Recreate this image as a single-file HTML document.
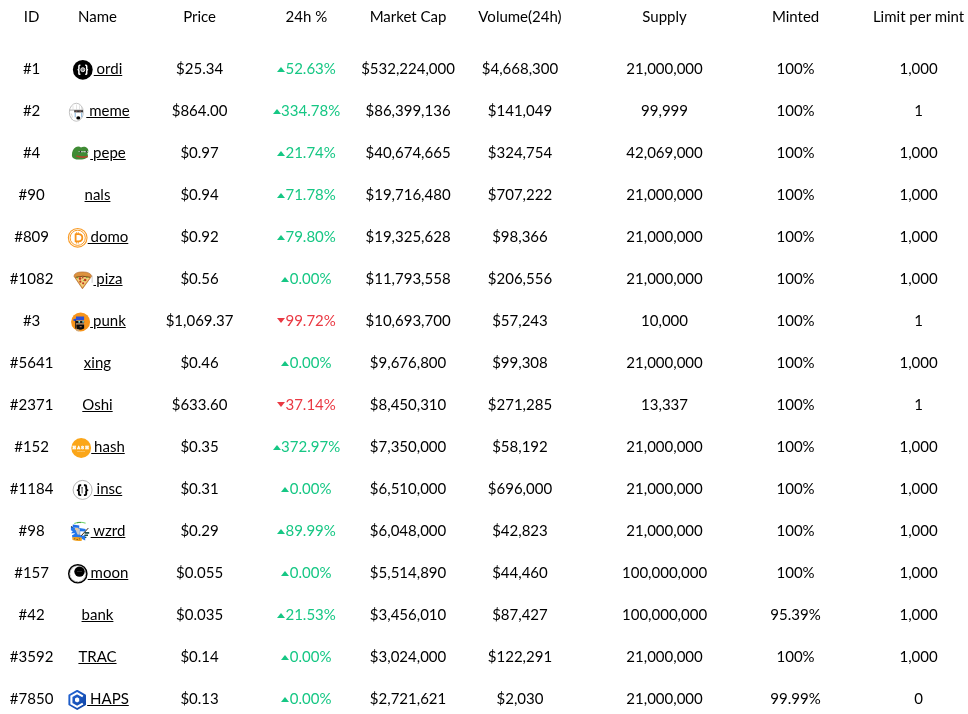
<!DOCTYPE html><html><head><meta charset="utf-8"><title>BRC-20 tokens</title><style>
*{box-sizing:border-box}
html,body{margin:0;padding:0;background:#fff;overflow:hidden}
body{width:968px;height:714px;font-family:Lato,"Liberation Sans",sans-serif;font-size:15px;color:#000}
table{will-change:transform;border-collapse:collapse;table-layout:fixed;width:1006px;position:absolute;left:0;top:0}
td,th{padding:0;text-align:center;white-space:nowrap;font-weight:400;vertical-align:middle}
thead th{height:31px;line-height:18px}
tbody td{height:42px;line-height:18px}
tbody tr:first-child td{height:58px;padding-top:16px}
a{color:#000;text-decoration:underline}
.ic{display:inline-block;width:20px;height:14px;position:relative}
.ic svg{position:absolute;left:.5px;top:0;width:20px;height:20px;overflow:visible}
.ic+a{margin-left:1px;word-spacing:-1px}
.up{color:#16c784}
.dn{color:#ea3943}
.tri{display:inline-block;width:0;height:0;border-left:4.5px solid transparent;border-right:4.5px solid transparent;margin-right:.5px}
.up .tri{border-bottom:5px solid #16c784;vertical-align:2px}
.dn .tri{border-top:5px solid #ea3943;vertical-align:3px}
</style></head><body>
<table><colgroup><col style="width:63.2px"><col style="width:68.6px"><col style="width:135.6px"><col style="width:78px"><col style="width:125.4px"><col style="width:98.4px"><col style="width:190.8px"><col style="width:71.2px"><col style="width:174.8px"></colgroup>
<thead><tr><th>ID</th><th>Name</th><th>Price</th><th>24h %</th><th>Market Cap</th><th>Volume(24h)</th><th>Supply</th><th>Minted</th><th>Limit per mint</th></tr></thead><tbody>
<tr><td>#1</td><td><span class="ic"><svg viewBox="0 0 20 20"><circle cx="9.8" cy="9.8" r="9.9" fill="#000"/>
<path d="M7.4 5.3H6.7Q5.9 5.3 5.9 6.2V8.7Q5.9 9.5 5.2 9.8Q5.9 10.1 5.9 10.9V13.4Q5.9 14.3 6.7 14.3H7.4M12.2 5.3H12.9Q13.7 5.3 13.7 6.2V8.7Q13.7 9.5 14.4 9.8Q13.7 10.1 13.7 10.9V13.4Q13.7 14.3 12.9 14.3H12.2" fill="none" stroke="#fff" stroke-width="1.5" stroke-linejoin="round"/>
<circle cx="9.8" cy="9.7" r="2" fill="#8a8a8a" stroke="#e8e8e8" stroke-width="1"/></svg></span><a href="#"> ordi</a></td><td>$25.34</td><td class="up"><span class="tri"></span>52.63%</td><td>$532,224,000</td><td>$4,668,300</td><td>21,000,000</td><td>100%</td><td>1,000</td></tr>
<tr><td>#2</td><td><span class="ic"><svg viewBox="0 0 20 20"><ellipse cx="10.35" cy="10.25" rx="7" ry="9" fill="#fff" stroke="#aaa" stroke-width=".7"/><path d="M7 3.5V7.5M10.5 2.5V7.5M13.5 3.2V7.5M15.5 4.5V7.5" stroke="#c8c8c8" stroke-width=".5"/>
<path d="M3.5 8.1H17" stroke="#9a9a9a" stroke-width=".8"/>
<path d="M8.2 8.2H17V10.4H8.2z" fill="#3a3a3a"/><path d="M9.6 8.6h1.6v1.4H9.6zM13.4 8.6h1.6v1.4h-1.6z" fill="#7a5a5a"/>
<path d="M9.2 10.8V15.3M15.7 10.8V15.2" stroke="#86b6de" stroke-width="1"/>
<path d="M5.2 11.5L6.7 15.5M4.7 14.5L6.2 18" stroke="#c4c4c4" stroke-width=".6"/>
<ellipse cx="12.3" cy="15.9" rx="2" ry="1.6" fill="#000"/></svg></span><a href="#"> meme</a></td><td>$864.00</td><td class="up"><span class="tri"></span>334.78%</td><td>$86,399,136</td><td>$141,049</td><td>99,999</td><td>100%</td><td>1</td></tr>
<tr><td>#4</td><td><span class="ic"><svg viewBox="0 0 20 20"><path d="M1.9 11.2C1.9 7.5 3.4 4.6 5.6 3.3C7.4 2.2 9.6 2.3 11 3.5C12.6 2.3 15.6 2.4 17.1 3.9C18.5 5.2 18.6 7.2 18.1 8.5L17.3 9.6C17.9 10.6 18.1 11.6 17.8 12.8C16.6 14.9 13 15.6 9.4 15.6C4.8 15.6 1.9 14.3 1.9 11.2Z" fill="#3f8b34"/>
<path d="M7.9 7.6Q10.5 6.5 13.2 7.5Q15.8 6.5 18.4 7.4Q15.8 8.7 13.2 8Q10.5 8.8 7.9 7.6Z" fill="#e4e4e4"/>
<rect x="9.7" y="6.8" width="1.4" height="1.8" fill="#333"/><rect x="15.7" y="6.7" width="1.3" height="1.8" fill="#333"/>
<path d="M6.4 12.1Q12 13.9 17.8 12.4" stroke="#b4452b" stroke-width="1.6" fill="none"/></svg></span><a href="#"> pepe</a></td><td>$0.97</td><td class="up"><span class="tri"></span>21.74%</td><td>$40,674,665</td><td>$324,754</td><td>42,069,000</td><td>100%</td><td>1,000</td></tr>
<tr><td>#90</td><td><a href="#">nals</a></td><td>$0.94</td><td class="up"><span class="tri"></span>71.78%</td><td>$19,716,480</td><td>$707,222</td><td>21,000,000</td><td>100%</td><td>1,000</td></tr>
<tr><td>#809</td><td><span class="ic"><svg viewBox="0 0 20 20"><circle cx="10.7" cy="9.8" r="9.35" fill="#fff" stroke="#f99c28" stroke-width="1.1"/>
<circle cx="10.7" cy="9.8" r="7.6" fill="none" stroke="#f99c28" stroke-width="1"/>
<path d="M8.6 6.2H11.6Q15.3 6.4 15.3 9.8Q15.3 13.2 11.6 13.4H8.6Z" fill="none" stroke="#f7931a" stroke-width="1.8" stroke-linejoin="round"/>
<path d="M9.6 4.2V5.6M11.3 4.2V5.6M9.6 14V15.5M11.3 14V15.5" stroke="#f7931a" stroke-width=".9"/></svg></span><a href="#"> domo</a></td><td>$0.92</td><td class="up"><span class="tri"></span>79.80%</td><td>$19,325,628</td><td>$98,366</td><td>21,000,000</td><td>100%</td><td>1,000</td></tr>
<tr><td>#1082</td><td><span class="ic"><svg viewBox="0 0 20 20"><g transform="translate(-.55 0)"><path d="M1.5 6.2Q1.9 2 10 1.9Q18.2 2 19.2 6.2L10 18.8Z" fill="#dd923d" stroke="#a95e1f" stroke-width=".6"/>
<path d="M3.3 7.4Q10 5.4 17.5 7.4L10 17.2Z" fill="#f2d27a"/>
<path d="M3.2 7.3Q10 5.2 17.6 7.3" stroke="#5e3410" stroke-width=".8" fill="none"/>
<circle cx="7.6" cy="8.6" r="1.3" fill="#c23a22"/><circle cx="12.7" cy="10" r="1.3" fill="#c23a22"/><circle cx="7.9" cy="11.7" r="1.1" fill="#c23a22"/><circle cx="10.7" cy="13.3" r="1.1" fill="#c23a22"/><circle cx="10.3" cy="7.7" r=".8" fill="#b03020"/>
<circle cx="14.4" cy="7.6" r=".7" fill="#5aa02c"/><circle cx="4.9" cy="7.7" r=".6" fill="#5aa02c"/><circle cx="11" cy="10.5" r=".5" fill="#6ab03c"/>
<path d="M19.7 5.5V12.8" stroke="#9a9a9a" stroke-width=".5"/></g></svg></span><a href="#"> piza</a></td><td>$0.56</td><td class="up"><span class="tri"></span>0.00%</td><td>$11,793,558</td><td>$206,556</td><td>21,000,000</td><td>100%</td><td>1,000</td></tr>
<tr><td>#3</td><td><span class="ic"><svg viewBox="0 0 20 20"><circle cx="10.6" cy="9.9" r="9.5" fill="#f7951c"/>
<path d="M6 7.7H14.1V14H6Z" fill="#d9a679"/>
<path d="M6 4.6H14.1V7.9H6ZM3.3 7.2L6.2 6.6V9L3.6 9.1Z" fill="#2a4fd6"/>
<path d="M6 8.8H14.1V11.3H6Z" fill="#111"/><path d="M8.4 9.1h1.7v1.7H8.4zM12.4 9.1h1.4v1.7h-1.4z" fill="#7fe3de"/>
<path d="M6.2 12.6H14.1V16.5Q11 18.2 6.6 17.6Z" fill="#0b0b0b"/><path d="M9.7 14.1h2v1.2h-2z" fill="#a8704c"/>
<path d="M6 16.8L9.4 17.6L9.2 19.5L6.3 19Z" fill="#cfa878"/><path d="M5.5 8.6V16.6" stroke="#222" stroke-width=".9"/></svg></span><a href="#"> punk</a></td><td>$1,069.37</td><td class="dn"><span class="tri"></span>99.72%</td><td>$10,693,700</td><td>$57,243</td><td>10,000</td><td>100%</td><td>1</td></tr>
<tr><td>#5641</td><td><a href="#">xing</a></td><td>$0.46</td><td class="up"><span class="tri"></span>0.00%</td><td>$9,676,800</td><td>$99,308</td><td>21,000,000</td><td>100%</td><td>1,000</td></tr>
<tr><td>#2371</td><td><a href="#">Oshi</a></td><td>$633.60</td><td class="dn"><span class="tri"></span>37.14%</td><td>$8,450,310</td><td>$271,285</td><td>13,337</td><td>100%</td><td>1</td></tr>
<tr><td>#152</td><td><span class="ic"><svg viewBox="0 0 20 20"><circle cx="10.2" cy="10" r="9.9" fill="#fba619"/>
<text x="1.5" y="10.8" font-size="4" font-family="DejaVu Serif,Liberation Serif,serif" font-weight="bold" fill="#fff" stroke="#fff" stroke-width=".45" letter-spacing="1.3" textLength="17.4" lengthAdjust="spacingAndGlyphs">HASH</text>
<text x="6.2" y="13.8" font-size="2" font-family="Liberation Sans,sans-serif" fill="#fde3b0" textLength="7.9" lengthAdjust="spacingAndGlyphs">BRC20</text></svg></span><a href="#"> hash</a></td><td>$0.35</td><td class="up"><span class="tri"></span>372.97%</td><td>$7,350,000</td><td>$58,192</td><td>21,000,000</td><td>100%</td><td>1,000</td></tr>
<tr><td>#1184</td><td><span class="ic"><svg viewBox="0 0 20 20"><g transform="translate(-.4 0)"><circle cx="10" cy="9.9" r="9.5" fill="#fff" stroke="#8a8a8a" stroke-width=".65"/>
<path d="M8.6 5.3H7.4Q6.3 5.3 6.3 6.4V8.9Q6.3 9.8 5 10.1Q6.3 10.4 6.3 11.3V14Q6.3 15.1 7.4 15.1H8.6M11.3 5.3H12.5Q13.6 5.3 13.6 6.4V8.9Q13.6 9.8 14.9 10.1Q13.6 10.4 13.6 11.3V14Q13.6 15.1 12.5 15.1H11.3" fill="none" stroke="#000" stroke-width="1.9" stroke-linejoin="round"/>
<circle cx="9.5" cy="7.8" r=".9" fill="#444"/><path d="M9.5 8.5V13.4" stroke="#444" stroke-width=".9"/></g></svg></span><a href="#"> insc</a></td><td>$0.31</td><td class="up"><span class="tri"></span>0.00%</td><td>$6,510,000</td><td>$696,000</td><td>21,000,000</td><td>100%</td><td>1,000</td></tr>
<tr><td>#98</td><td><span class="ic"><svg viewBox="0 0 20 20"><path d="M4.3 1.6Q10 -.9 15.6 1.2" stroke="#74d46c" stroke-width="1.1" fill="none"/><path d="M7 .9Q9 .2 11 .6" stroke="#2f7a2a" stroke-width=".7" fill="none"/>
<path d="M2.8 2.5L9.3 3.4L9.2 5.9L2.7 5.1z" fill="#1f6ee6"/>
<path d="M.9 4.8L5.3 5.6L9.4 6.1L15.6 7.1L15.5 9.4L10.2 9.2L10.2 13L11.5 13.6L15.3 13.5L15.2 18.5L11 16.6L2.3 15.6L2 13.2L5 11.7L4.4 11.2L1 11.3L2.8 9.2L.9 8.3z" fill="#2377ec"/>
<path d="M4.9 6.4L9.9 6.6L9.7 12.8L7.5 12.6z" fill="#c9c9c9"/><path d="M4.9 6H8.2V7.7H4.9z" fill="#e9c99a"/>
<path d="M2.2 15.2Q7 14.6 11.9 15.4L11.8 18.8Q7 19.4 2.6 18z" fill="#f0a11f"/><path d="M4 16.5h1.2v.8H4zM6.5 17h1.4v.7H6.5zM9 16.4h1v.8H9z" fill="#6b4a12"/>
<path d="M18.3 6.1L11.2 13.8" stroke="#3a2410" stroke-width="1"/>
<path d="M14.6 10h4.6v1.7H14.6zM14.4 12.5h3.6v1.4h-3.6zM14.9 14.7h1.5v1.4h-1.5z" fill="#1f4e4e"/>
<path d="M.8 4.8L2.1 4L2.4 5.9z" fill="#111"/></svg></span><a href="#"> wzrd</a></td><td>$0.29</td><td class="up"><span class="tri"></span>89.99%</td><td>$6,048,000</td><td>$42,823</td><td>21,000,000</td><td>100%</td><td>1,000</td></tr>
<tr><td>#157</td><td><span class="ic"><svg viewBox="0 0 20 20"><circle cx="10.8" cy="9.75" r="9.1" fill="#fff" stroke="#000" stroke-width="1.45"/>
<circle cx="10.8" cy="9.75" r="7.9" fill="none" stroke="#333" stroke-width=".7" stroke-dasharray=".7 .8"/>
<circle cx="12.5" cy="7.6" r="5.2" fill="#000"/>
<path d="M10.1 7.5h5" stroke="#777" stroke-width=".6" stroke-dasharray=".6 .4"/></svg></span><a href="#"> moon</a></td><td>$0.055</td><td class="up"><span class="tri"></span>0.00%</td><td>$5,514,890</td><td>$44,460</td><td>100,000,000</td><td>100%</td><td>1,000</td></tr>
<tr><td>#42</td><td><a href="#">bank</a></td><td>$0.035</td><td class="up"><span class="tri"></span>21.53%</td><td>$3,456,010</td><td>$87,427</td><td>100,000,000</td><td>95.39%</td><td>1,000</td></tr>
<tr><td>#3592</td><td><a href="#">TRAC</a></td><td>$0.14</td><td class="up"><span class="tri"></span>0.00%</td><td>$3,024,000</td><td>$122,291</td><td>21,000,000</td><td>100%</td><td>1,000</td></tr>
<tr><td>#7850</td><td><span class="ic"><svg viewBox="0 0 20 20"><defs><linearGradient id="hg" x1="0" y1="0" x2="1" y2="1"><stop offset="0" stop-color="#2466d6"/><stop offset="1" stop-color="#0f45a6"/></linearGradient></defs>
<g transform="translate(-.2 0)"><path d="M10.4 0.9L18.2 5.4V14.4L10.4 18.9L2.6 14.4V5.4Z" fill="url(#hg)" stroke="url(#hg)" stroke-width="2" stroke-linejoin="round"/>
<path d="M16 6.4L10.3 3.2L4.6 6.4V13.6L10.3 16.8L16 13.6" fill="none" stroke="#fff" stroke-width="2.1"/>
<path d="M10.3 7.3L12.4 8.6V11.2L10.3 12.5L8.2 11.2V8.6Z" fill="#fff"/></g></svg></span><a href="#"> HAPS</a></td><td>$0.13</td><td class="up"><span class="tri"></span>0.00%</td><td>$2,721,621</td><td>$2,030</td><td>21,000,000</td><td>99.99%</td><td>0</td></tr>
</tbody></table></body></html>
